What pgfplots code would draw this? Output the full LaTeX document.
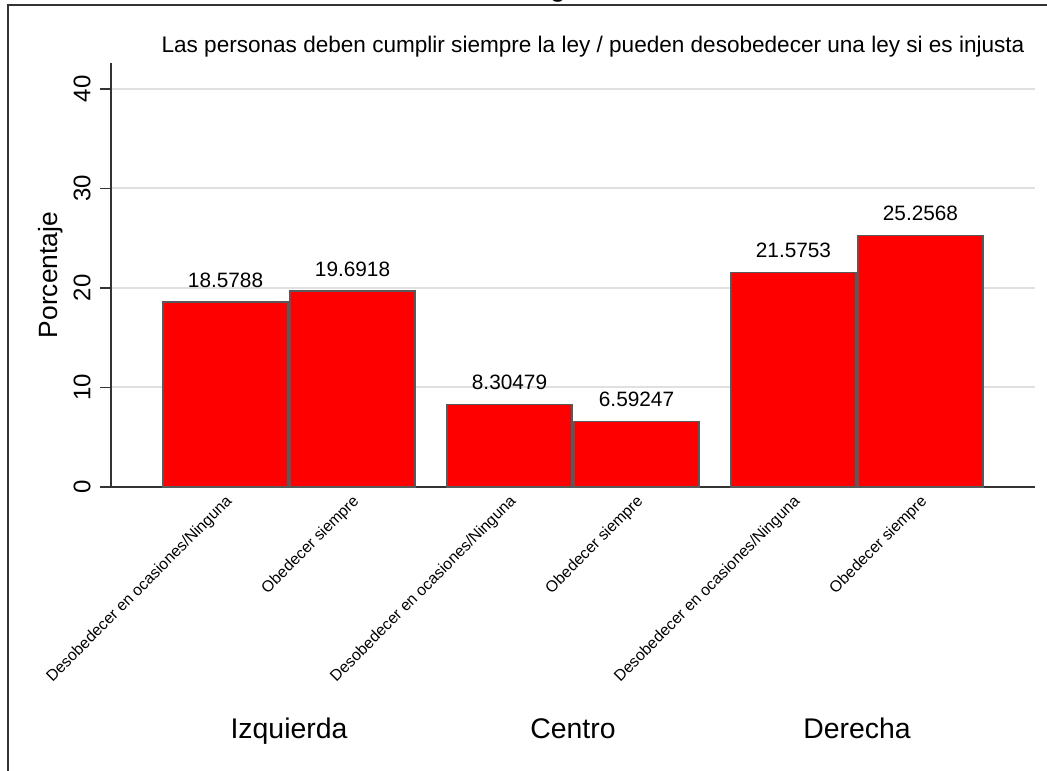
\documentclass[border=0pt]{standalone}
\usepackage{fontspec}
\setmainfont{Liberation Sans}
\usepackage{pgfplots}
\pgfplotsset{compat=1.18}
\begin{document}
\begin{tikzpicture}
\begin{axis}[
  scale only axis, width=462pt, height=212pt,
  xmin=-0.902, xmax=6.374, ymin=0, ymax=42.6,
  axis x line*=bottom, axis y line*=left,
  axis line style={draw=black!80, line width=1pt},
  ymajorgrids, grid style={draw=black!12, line width=1pt},
  ytick={0,10,20,30,40},
  xtick={0,1,2.236,3.236,4.472,5.472},
  xticklabels={Desobedecer en ocasiones/Ninguna, Obedecer siempre, Desobedecer en ocasiones/Ninguna, Obedecer siempre, Desobedecer en ocasiones/Ninguna, Obedecer siempre},
  x tick style={draw=none},
  y tick style={draw=black!80, line width=0.75pt},
  tick align=outside, major tick length=5.5pt,
  /pgf/number format/assume math mode=true,
  yticklabel style={rotate=90, anchor=south, font=\fontsize{12}{14}\selectfont, inner xsep=0pt, inner ysep=4.5pt},
  xticklabel style={xshift=2.25pt, yshift=-0.5pt, rotate=45, anchor=east, font=\fontsize{7.9}{9.5}\selectfont, inner sep=0pt},
  ybar, bar width=0.984, bar shift=0pt,
  nodes near coords, point meta=explicit symbolic,
  every node near coord/.append style={font=\fontsize{10.4}{12}\selectfont, anchor=south, inner sep=0pt, yshift=7pt},
  clip=false,
]
\addplot[fill=red, draw=black!65, line width=0.75pt] table[x=x, y=y, meta=lab] {
x y lab
0 18.5788 18.5788
1 19.6918 19.6918
2.236 8.30479 8.30479
3.236 6.59247 6.59247
4.472 21.5753 21.5753
5.472 25.2568 25.2568
};
\end{axis}
% frame of the graph region
\draw[black!80, line width=1pt] (-51.5pt,-150pt) -- (-51.5pt,241pt) -- (480pt,241pt);
% cut-off title fragment
\node[anchor=base, font=\fontsize{14}{16}\selectfont, inner sep=0pt] at (223.5pt,245pt) {g};
% subtitle
\node[anchor=base, font=\fontsize{11.28}{13}\selectfont, inner sep=0pt] at (241pt,217pt) {Las personas deben cumplir siempre la ley / pueden desobedecer una ley si es injusta};
% y label
\node[rotate=90, anchor=center, font=\fontsize{13.2}{15}\selectfont, inner sep=0pt] at (-30pt,106pt) {Porcentaje};
% group labels
\node[anchor=base, font=\fontsize{14.2}{16}\selectfont, inner sep=0pt] at (89pt,-125.5pt) {Izquierda};
\node[anchor=base, font=\fontsize{14.2}{16}\selectfont, inner sep=0pt] at (231pt,-125.5pt) {Centro};
\node[anchor=base, font=\fontsize{14.2}{16}\selectfont, inner sep=0pt] at (373pt,-125.5pt) {Derecha};
\pgfresetboundingbox
\useasboundingbox (-55.5pt,-141.5pt) rectangle (468pt,243.5pt);
\end{tikzpicture}
\end{document}
